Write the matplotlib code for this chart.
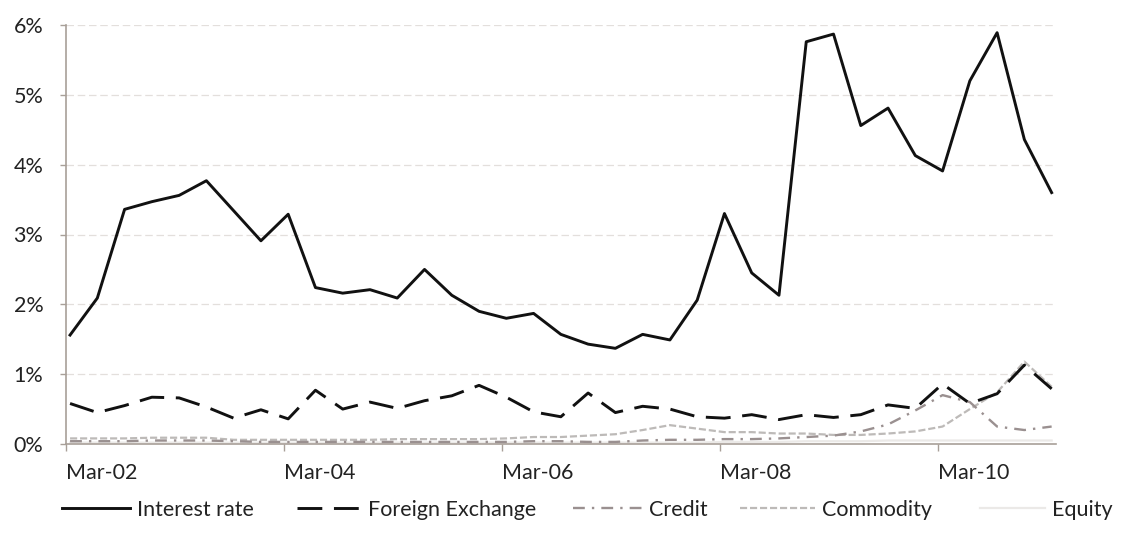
import matplotlib
matplotlib.use("Agg")
import matplotlib.pyplot as plt
import numpy as np

# Quarterly observations, Mar-02 .. Mar-11 (37 quarters), values in %
interest_rate = [1.56, 2.09, 3.36, 3.47, 3.56, 3.77, 3.34, 2.91, 3.29, 2.24,
                 2.16, 2.21, 2.09, 2.50, 2.13, 1.90, 1.80, 1.87, 1.57, 1.43,
                 1.37, 1.57, 1.49, 2.06, 3.30, 2.45, 2.13, 5.76, 5.87, 4.56,
                 4.81, 4.13, 3.91, 5.20, 5.89, 4.36, 3.60]
foreign_exchange = [0.58, 0.45, 0.55, 0.67, 0.66, 0.53, 0.37, 0.49, 0.36, 0.77,
                    0.50, 0.60, 0.51, 0.62, 0.69, 0.84, 0.67, 0.46, 0.39, 0.73,
                    0.45, 0.54, 0.50, 0.39, 0.37, 0.42, 0.35, 0.42, 0.38, 0.42,
                    0.56, 0.51, 0.86, 0.58, 0.72, 1.13, 0.79]
credit = [0.04, 0.04, 0.04, 0.05, 0.05, 0.05, 0.04, 0.03, 0.03, 0.03,
          0.03, 0.03, 0.03, 0.03, 0.03, 0.03, 0.03, 0.04, 0.04, 0.03,
          0.03, 0.05, 0.06, 0.06, 0.07, 0.07, 0.08, 0.10, 0.12, 0.18,
          0.28, 0.48, 0.70, 0.60, 0.25, 0.20, 0.25]
commodity = [0.08, 0.08, 0.08, 0.09, 0.09, 0.09, 0.06, 0.06, 0.06, 0.06,
             0.06, 0.06, 0.07, 0.07, 0.07, 0.07, 0.08, 0.10, 0.10, 0.12,
             0.14, 0.20, 0.27, 0.22, 0.17, 0.17, 0.15, 0.15, 0.13, 0.13,
             0.15, 0.18, 0.25, 0.50, 0.74, 1.18, 0.82]
equity = [0.02, 0.02, 0.02, 0.02, 0.02, 0.02, 0.02, 0.02, 0.02, 0.02,
          0.02, 0.02, 0.02, 0.02, 0.02, 0.02, 0.02, 0.02, 0.02, 0.02,
          0.02, 0.02, 0.02, 0.02, 0.03, 0.03, 0.03, 0.04, 0.04, 0.04,
          0.05, 0.05, 0.05, 0.05, 0.05, 0.05, 0.05]
tick_labels = ["Mar-02", "Mar-04", "Mar-06", "Mar-08", "Mar-10"]
y_ticks = [0, 1, 2, 3, 4, 5, 6]
series_names = ['Interest rate', 'Foreign Exchange', 'Credit', 'Commodity', 'Equity']

plt.rcParams['font.family'] = ['Lato', 'DejaVu Sans']

W, H = 1125, 543
fig = plt.figure(figsize=(W / 100, H / 100), dpi=100)
ax = fig.add_axes([65.7 / W, 1 - 444 / H, (1056 - 65.7) / W, (444 - 25) / H])

x = np.arange(len(interest_rate))

l_eq, = ax.plot(x, equity, color='#ebe9e7', lw=1.6, zorder=2)
l_co, = ax.plot(x, commodity, color='#bdbab8', lw=1.6, linestyle=(0, (3.2, 1.3)),
                zorder=3)
l_cr, = ax.plot(x, credit, color='#9a9090', lw=1.7, linestyle=(0, (5, 3, 1, 3)),
                zorder=4)
l_fx, = ax.plot(x, foreign_exchange, color='#111111', lw=2.1,
                linestyle=(0, (8.5, 4)), zorder=5)
l_ir, = ax.plot(x, interest_rate, color='#111111', lw=2.1, zorder=6)

ax.set_xlim(-0.16, 36.16)
ax.set_ylim(0, 6)

for yv in y_ticks[1:]:
    ax.axhline(yv, color='#e3dfdc', lw=0.9, linestyle=(0, (6, 3)), zorder=1)

ax.set_yticks(y_ticks)
ax.set_yticklabels([f"{v}%" for v in y_ticks])
ax.set_xticks([-0.16 + 8 * k for k in range(len(tick_labels))])
ax.set_xticklabels(tick_labels, ha='left')

spine_c = '#a89f98'
for s in ['top', 'right']:
    ax.spines[s].set_visible(False)
for s in ['left', 'bottom']:
    ax.spines[s].set_color(spine_c)
    ax.spines[s].set_linewidth(1.2)

ax.tick_params(axis='y', length=4, width=1, color=spine_c, pad=12,
               labelsize=15.5, labelcolor='#222222')
ax.tick_params(axis='x', length=5, width=1, color=spine_c, pad=9,
               labelsize=15.5, labelcolor='#222222')

# legend entries, each placed at its own position along the bottom row
handles = [l_ir, l_fx, l_cr, l_co, l_eq]
starts = [62, 297, 573, 740, 980]
hlens = [3.15, 2.95, 3.2, 3.5, 3.0]
for h, name, xs, hl in zip(handles, series_names, starts, hlens):
    fig.legend([h], [name], loc='center left',
               bbox_to_anchor=(xs / W, 1 - 510 / H), frameon=False,
               fontsize=15.5, handlelength=hl, handletextpad=0.33,
               borderpad=0, borderaxespad=0, labelcolor='#222222')

fig.savefig('out.png', dpi=100, facecolor='white')
